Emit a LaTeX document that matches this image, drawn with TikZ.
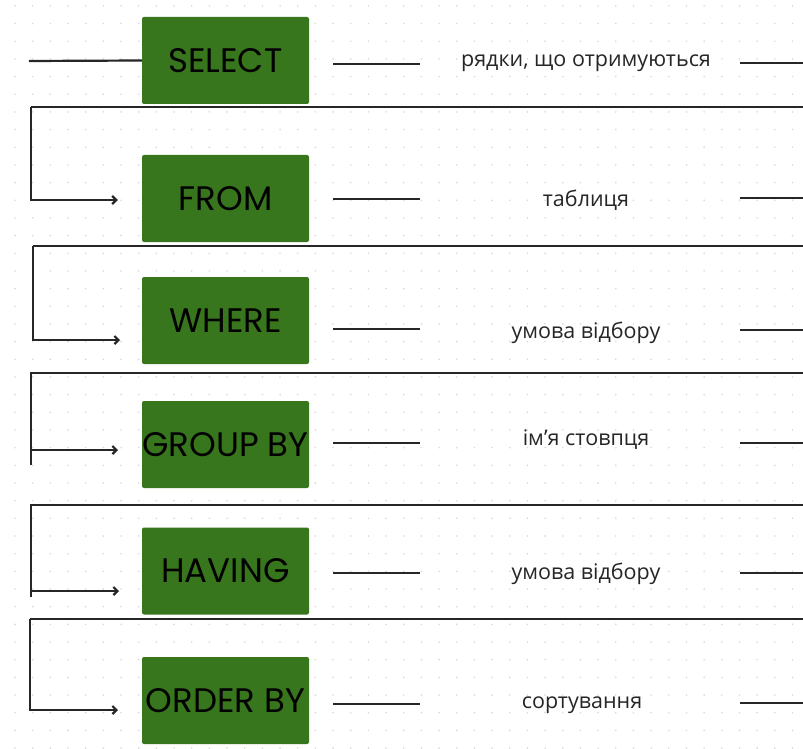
\documentclass[tikz,border=0pt]{standalone}
\usepackage{fontspec}
\setmainfont{Open Sans}
\newfontfamily\boxfont{Poppins}
\usetikzlibrary{arrows.meta,calc}
\definecolor{kwgreen}{HTML}{38761D}
\definecolor{dotgray}{HTML}{D9D9D9}
\begin{document}
\begin{tikzpicture}[x=1pt,y=-1pt,
  kw/.style={fill=kwgreen, rounded corners=2pt, minimum width=167pt, minimum height=87pt,
    inner sep=0pt, font=\boxfont\fontsize{34}{40}\selectfont, text=black},
  lbl/.style={font=\fontsize{21.5}{26}\selectfont, text=black!85, inner sep=0pt},
  ln/.style={line width=2.2pt, draw=black!85},
  arr/.style={ln, -{Straight Barb[length=4pt,width=8pt]}}]
\useasboundingbox (0,0) rectangle (803,749);
\fill[white] (0,0) rectangle (803,749);
% dotted grid
\foreach \i in {0,...,45} {
  \foreach \j in {0,...,42} {
    \fill[dotgray] (15+17.67*\i, 5.9+17.67*\j) circle (0.9pt);
  }
}
% keyword boxes
\node[kw] (sel) at (225.5,60.5) {SELECT};
\node[kw] (frm) at (225.5,198.5) {FROM};
\node[kw] (whr) at (225.5,320.5) {WHERE};
\node[kw] (grp) at (225.5,444.5) {GROUP BY};
\node[kw] (hav) at (225.5,571) {HAVING};
\node[kw] (ord) at (225.5,700.5) {ORDER BY};
% labels
\node[lbl] (l1) at (586,63) {рядки, що отримуються};
\node[lbl] (l2) at (586,200) {таблиця};
\node[lbl] (l3) at (586,333) {умова відбору};
\node[lbl] (l4) at (586,440) {ім’я стовпця};
\node[lbl] (l5) at (586,574) {умова відбору};
\node[lbl] (l6) at (582,705) {сортування};
% start line
\coordinate (s0) at (29,61);
\draw[ln] (s0) -- (sel.west);
% short lines right of boxes and right edge lines
\foreach \n/\y/\yy in {sel/64/63, frm/199/198, whr/329/330, grp/443/443, hav/573/573, ord/704/703} {
  \draw[ln] (333,\y) -- (420,\y);
  \draw[ln] (740,\yy) -- (803,\yy);
}
% return loops
\coordinate (r1) at (31,107);
\draw[ln] (803,107) -- (r1);
\draw[arr] (r1) -- (31,200) -- ($(frm.west)+(-24,1.5)$);
\coordinate (r2) at (33,246);
\draw[ln] (803,246) -- (r2);
\draw[arr] (r2) -- (33,340) -- (120,340);
\coordinate (r3) at (31,373);
\draw[ln] (803,373) -- (r3) -- (31,465);
\draw[arr] (31,450) -- (118,450);
\coordinate (r4) at (31,505);
\draw[ln] (803,505) -- (r4) -- (31,597);
\draw[arr] (31,591) -- (119,591);
\coordinate (r5) at (30,619);
\draw[ln] (803,619) -- (r5);
\draw[arr] (r5) -- (30,710) -- (118,710);
\end{tikzpicture}
\end{document}
